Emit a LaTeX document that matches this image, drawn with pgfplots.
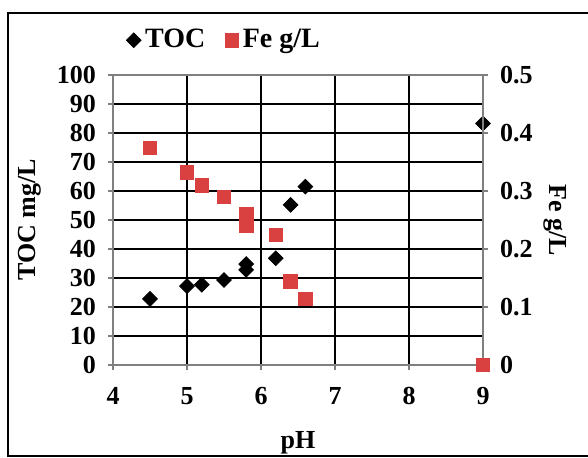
\documentclass[border=0pt]{standalone}
\usepackage{fontspec}
\setmainfont{Liberation Serif}
\usepackage{pgfplots}
\pgfplotsset{compat=1.18}
\definecolor{fered}{RGB}{217,64,64}
\definecolor{axgray}{RGB}{128,128,128}
\begin{document}
\begin{tikzpicture}
\useasboundingbox (0,0) rectangle (294pt,-229pt);
\draw[line width=1pt] (4pt,-6.5pt) rectangle (300pt,-227.8pt);
\begin{axis}[
  at={(56.5pt,-182.5pt)}, anchor=south west,
  scale only axis, width=185pt, height=145pt,
  xmin=4, xmax=9, ymin=0, ymax=100,
  xtick={4,5,6,7,8,9}, ytick={0,10,...,100},
  tick pos=left, tick align=outside,
  major tick length=2.5pt,
  every tick/.style={axgray, line width=0.6pt},
  axis line style={axgray, line width=0.9pt},
  grid=major, major grid style={black, line width=0.9pt},
  /pgf/number format/assume math mode=true,
  tick label style={font=\bfseries\fontsize{13}{14}\selectfont},
  xticklabel style={yshift=-5pt},
  yticklabel style={xshift=-2.5pt},
  xlabel={\bfseries pH}, ylabel={\bfseries TOC mg/L},
  label style={font=\bfseries\fontsize{13}{14}\selectfont},
  xlabel style={yshift=-6.5pt},
  ylabel style={yshift=1pt},
  legend style={at={(0.303,1.12)}, anchor=center, draw=none, fill=none,
    legend columns=2, font=\bfseries\fontsize{14}{15}\selectfont,
    /tikz/every even column/.append style={column sep=8pt}},
  legend cell align=left,
  legend image code/.code={\draw[#1] plot coordinates {(0.12cm,0cm)};},
]
\addplot[only marks, mark=square*, mark size=2.6pt, mark options={rotate=45, fill=black, draw=black}]
  coordinates {(4.5,22.8) (5.0,27.2) (5.2,27.7) (5.5,29.3) (5.8,34.8) (5.8,32.8) (6.2,36.8) (6.4,55.2) (6.6,61.5) (9.0,83.3)};
\addlegendentry{TOC}
\addlegendimage{only marks, mark=square*, mark size=3.4pt, mark options={fill=fered, draw=fered}}
\addlegendentry{Fe g/L}
\end{axis}
\begin{axis}[
  at={(56.5pt,-182.5pt)}, anchor=south west,
  scale only axis, width=185pt, height=145pt,
  xmin=4, xmax=9, ymin=0, ymax=0.5,
  axis x line=none, axis y line*=right,
  ytick={0,0.1,...,0.5},
  yticklabels={0,0.1,0.2,0.3,0.4,0.5},
  tick align=outside, major tick length=2.5pt,
  every tick/.style={axgray, line width=0.6pt},
  axis line style={axgray, line width=0.9pt},
  /pgf/number format/assume math mode=true,
  tick label style={font=\bfseries\fontsize{13}{14}\selectfont},
  yticklabel style={xshift=2.5pt},
  ylabel={\bfseries Fe g/L},
  ylabel style={font=\bfseries\fontsize{13}{14}\selectfont, rotate=180, yshift=-1.5pt},
  clip=false,
]
\addplot[only marks, mark=square*, mark size=3.4pt, mark options={fill=fered, draw=fered}]
  coordinates {(4.5,0.374) (5.0,0.332) (5.2,0.31) (5.5,0.29) (5.8,0.26) (5.8,0.241) (6.2,0.224) (6.4,0.144) (6.6,0.114) (9.0,0.0)};
\end{axis}
\end{tikzpicture}
\end{document}
